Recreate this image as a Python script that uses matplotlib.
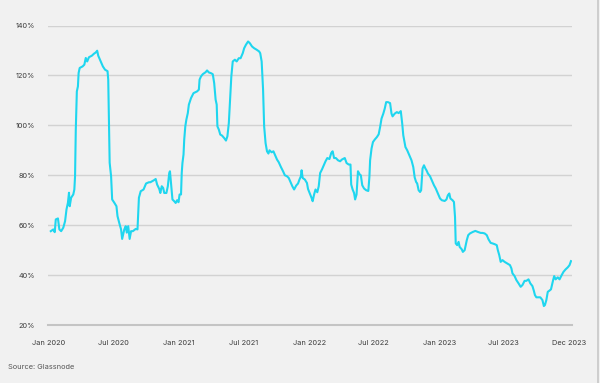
import matplotlib
matplotlib.use('Agg')
import matplotlib.pyplot as plt
import matplotlib.dates as mdates
from matplotlib.lines import Line2D
import pandas as pd

# days after 2020-01-01 and the ratio in %
days = [7, 14, 18, 21, 27, 31, 36, 42, 47, 51, 55, 58, 60, 64, 70, 73, 75, 77, 80, 83,
        85, 88, 96, 101, 105, 109, 114, 122, 128, 133, 137, 140, 147, 153, 159, 166, 168, 170, 172, 176,
        179, 185, 191, 194, 200, 204, 207, 213, 217, 220, 224, 228, 232, 237, 245, 250, 254, 259, 267, 274,
        282, 286, 296, 301, 305, 311, 314, 318, 322, 325, 331, 335, 339, 341, 344, 348, 353, 357, 361, 365,
        368, 372, 374, 376, 379, 381, 384, 387, 391, 394, 400, 407, 417, 422, 424, 428, 433, 441, 445, 450,
        456, 461, 465, 469, 472, 474, 478, 482, 487, 493, 498, 502, 506, 510, 513, 517, 523, 528, 534, 539,
        545, 549, 554, 560, 565, 571, 577, 584, 591, 594, 598, 602, 605, 609, 613, 617, 620, 626, 631, 635,
        641, 646, 652, 658, 663, 669, 674, 678, 684, 689, 695, 700, 704, 708, 710, 713, 719, 725, 728, 734,
        738, 741, 745, 749, 754, 758, 762, 767, 773, 777, 782, 788, 793, 797, 801, 806, 812, 818, 823, 831,
        836, 842, 847, 849, 853, 857, 860, 864, 868, 873, 876, 880, 885, 891, 897, 900, 902, 906, 910, 915,
        921, 926, 930, 934, 939, 943, 947, 952, 958, 962, 965, 971, 977, 982, 988, 992, 995, 1001, 1006, 1012,
        1018, 1023, 1027, 1031, 1034, 1038, 1042, 1045, 1049, 1053, 1057, 1060, 1064, 1070, 1075, 1081, 1086, 1092, 1098, 1103,
        1111, 1116, 1120, 1124, 1127, 1133, 1137, 1140, 1142, 1146, 1150, 1153, 1159, 1162, 1167, 1173, 1177, 1182, 1190, 1197,
        1204, 1212, 1217, 1223, 1229, 1234, 1240, 1245, 1251, 1257, 1260, 1264, 1268, 1273, 1279, 1286, 1294, 1298, 1301, 1307,
        1312, 1318, 1324, 1329, 1335, 1340, 1346, 1351, 1357, 1361, 1364, 1368, 1374, 1379, 1385, 1389, 1392, 1396, 1400, 1404,
        1409, 1415, 1418, 1422, 1428, 1433, 1439, 1444, 1450, 1456, 1461, 1465]
ratio = [57.6, 58.3, 57.2, 62.3, 62.7, 58.3, 57.6, 59.0, 61.6, 66.3, 69.0, 73.0, 67.6, 71.0, 72.3, 74.3, 79.6, 98.0, 113.6, 115.6,
         121.0, 123.0, 123.6, 124.3, 127.0, 125.6, 127.3, 127.9, 128.7, 129.2, 129.9, 127.9, 125.6, 123.6, 122.3, 121.7, 118.3, 100.9, 85.0, 79.6,
         70.3, 69.0, 67.6, 63.6, 60.3, 58.3, 54.5, 58.3, 59.6, 57.0, 59.6, 54.5, 57.6, 57.6, 58.5, 58.3, 71.0, 73.6, 74.3, 76.7,
         77.2, 77.2, 78.0, 78.5, 76.3, 74.5, 72.9, 75.6, 74.9, 72.9, 72.9, 75.6, 80.9, 81.6, 76.9, 70.3, 69.6, 68.9, 70.0, 69.2,
         72.3, 72.3, 80.9, 84.9, 88.3, 94.3, 99.6, 102.3, 104.9, 108.3, 110.9, 112.9, 113.6, 114.3, 118.3, 119.6, 120.5, 121.3, 122.0, 121.2,
         120.9, 120.5, 116.9, 110.3, 108.3, 99.6, 98.3, 96.3, 95.9, 94.9, 93.9, 95.6, 100.9, 111.6, 119.6, 125.6, 126.3, 125.6, 126.9, 126.9,
         128.9, 130.9, 132.3, 133.6, 132.9, 131.6, 130.9, 130.3, 129.6, 128.9, 125.6, 114.3, 99.6, 92.9, 89.6, 88.7, 90.0, 89.2, 89.6, 88.3,
         86.3, 85.2, 83.3, 81.6, 80.0, 79.6, 78.9, 77.6, 75.6, 74.3, 75.9, 76.7, 78.3, 79.6, 82.0, 78.9, 78.3, 76.9, 74.5, 72.3,
         70.9, 69.6, 72.3, 74.3, 73.2, 75.6, 80.9, 82.3, 84.3, 85.6, 86.9, 86.5, 88.9, 89.6, 86.9, 86.9, 86.0, 85.6, 86.3, 86.9,
         84.9, 84.3, 84.3, 76.3, 74.3, 72.9, 70.3, 72.3, 81.6, 80.3, 80.0, 76.0, 74.7, 74.0, 73.7, 79.3, 86.0, 90.7, 93.3, 94.3,
         95.3, 96.4, 99.3, 102.7, 104.7, 106.7, 109.3, 109.3, 108.9, 104.7, 103.6, 104.7, 105.3, 104.9, 105.7, 100.7, 96.0, 91.3, 90.0, 88.0,
         86.0, 83.3, 79.1, 77.3, 76.7, 74.0, 73.3, 74.0, 82.7, 84.0, 82.7, 82.0, 80.7, 79.6, 78.0, 76.0, 74.7, 72.7, 70.7, 70.0,
         69.7, 70.3, 72.0, 72.7, 70.7, 70.0, 69.3, 63.3, 52.7, 52.0, 53.3, 51.3, 50.3, 49.3, 50.0, 54.0, 56.0, 56.7, 57.3, 57.7,
         57.3, 56.9, 56.9, 56.7, 56.0, 54.3, 52.9, 52.7, 52.4, 52.0, 50.0, 48.0, 45.3, 46.0, 45.3, 44.7, 44.0, 42.7, 40.7, 39.6,
         38.0, 36.7, 35.3, 36.0, 37.7, 37.7, 38.3, 36.7, 35.6, 33.7, 32.0, 31.1, 31.1, 31.1, 30.0, 27.6, 28.0, 30.0, 33.3, 33.7,
         34.3, 38.0, 39.6, 38.3, 39.1, 38.3, 40.0, 41.3, 42.3, 43.1, 44.0, 45.6]

tick_dates = ['2020-01-01', '2020-07-01', '2021-01-01', '2021-07-01', '2022-01-01',
              '2022-07-01', '2023-01-01', '2023-07-01', '2023-12-31']
tick_labels = ['Jan 2020', 'Jul 2020', 'Jan 2021', 'Jul 2021', 'Jan 2022',
               'Jul 2022', 'Jan 2023', 'Jul 2023', 'Dec 2023']
y_ticks = [20, 40, 60, 80, 100, 120, 140]

bg = '#f1f1f1'
txt = '#3a3a3a'
plt.rcParams['font.family'] = ['Inter', 'DejaVu Sans']

dates = pd.Timestamp('2020-01-01') + pd.to_timedelta(days, unit='D')

fig = plt.figure(figsize=(6, 3.83), dpi=100, facecolor=bg)
ax = fig.add_axes([0.0805, 0.1514, 0.8723, 0.782])
ax.set_facecolor(bg)

ax.plot(dates, ratio, color='#1fd6ef', linewidth=1.5, solid_joinstyle='round', zorder=3)

ax.set_ylim(20, 140)
ax.set_xlim(pd.Timestamp('2020-01-08'), pd.Timestamp('2024-01-07'))
ax.set_yticks(y_ticks)
ax.set_yticklabels([f'{v}%' for v in y_ticks])
ax.set_xticks(pd.to_datetime(tick_dates))
ax.set_xticklabels(tick_labels)

ax.grid(axis='y', color='#d2d2d2', linewidth=1.0)
ax.grid(axis='x', visible=False)
for s in ['top', 'right', 'left']:
    ax.spines[s].set_visible(False)
ax.spines['bottom'].set_color('#c4c4c4')
ax.spines['bottom'].set_linewidth(1.5)

ax.tick_params(axis='y', length=0, pad=9.5, labelsize=5.3, labelcolor=txt)
ax.tick_params(axis='x', length=0, pad=11, labelsize=5.3, labelcolor=txt)
ax.set_axisbelow(True)

fig.text(0.013, 0.042, 'Source: Glassnode', fontsize=5.3, color='#555555',
         ha='left', va='center')
fig.add_artist(Line2D([0.9965, 0.9965], [0, 1], transform=fig.transFigure,
                      color='#c8c8c8', linewidth=1.2))

fig.savefig('out.png', dpi=100, facecolor=bg)
